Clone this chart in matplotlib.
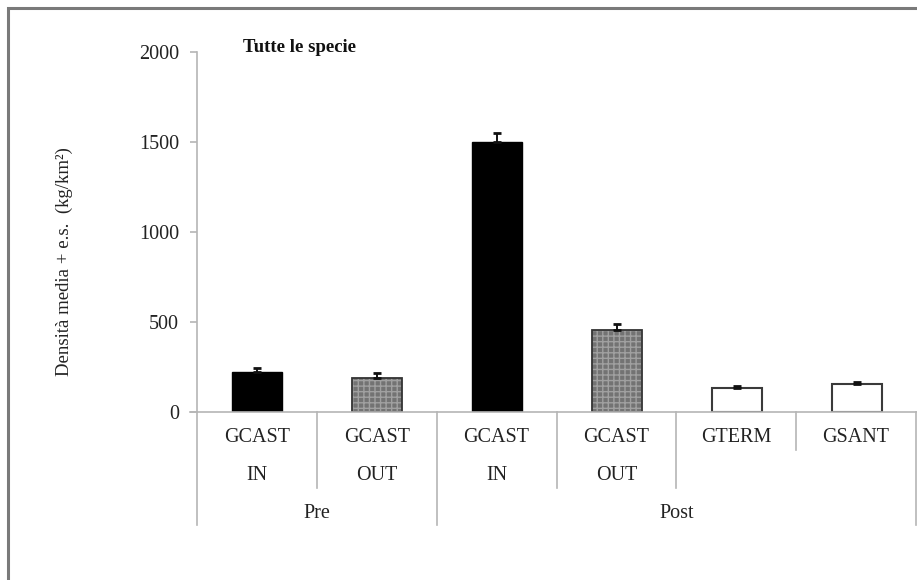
import matplotlib
matplotlib.use("Agg")
import matplotlib.pyplot as plt
from matplotlib.patches import Rectangle
from matplotlib.lines import Line2D
import numpy as np

# ---- data ----
groups = ["Pre", "Post"]
group_sizes = [2, 4]
sites = ["GCAST\nIN", "GCAST\nOUT", "GCAST\nIN", "GCAST\nOUT", "GTERM", "GSANT"]
means = [222, 189, 1500, 454, 135, 156]
errors = [21, 28, 52, 35, 11, 12]
styles = ["in", "out", "in", "out", "other", "other"]
yticks = [0, 500, 1000, 1500, 2000]
title = "Tutte le specie"
ylabel = "Densità media + e.s.  (kg/km²)"

W, H = 917, 580
plt.rcParams['font.family'] = ['Liberation Serif', 'DejaVu Serif']
fig = plt.figure(figsize=(W / 100, H / 100), dpi=100)

def fx(px):
    return px / W

def fy(py):
    return 1 - py / H

ax_left, ax_right, ax_top, ax_bot = 197, 917, 52, 412
ax = fig.add_axes([fx(ax_left), fy(ax_bot), fx(ax_right - ax_left), (ax_bot - ax_top) / H])
ax.set_xlim(0, 6.0)
ax.set_ylim(0, 2000)

x = np.arange(len(sites)) + 0.5
bw = 0.42
grey_axis = "#b5b5b5"
for xi, m, e, s in zip(x, means, errors, styles):
    if s == "in":
        ax.bar(xi, m, width=bw, color="black", edgecolor="black", linewidth=1, zorder=3)
    elif s == "out":
        ax.bar(xi, m, width=bw, color="#737373", edgecolor="#a0a0a0", hatch="+++",
               linewidth=0, zorder=3)
        ax.bar(xi, m, width=bw, fill=False, edgecolor="#333333", linewidth=1.3, zorder=4)
    else:
        ax.bar(xi, m, width=bw, color="white", edgecolor="#3a3a3a", linewidth=1.5, zorder=3)
    ax.errorbar(xi, m, yerr=[[0], [e]], fmt="none", ecolor="#111111", elinewidth=1.4,
                capsize=3.2, capthick=2, zorder=5)

for sp in ["top", "right", "bottom"]:
    ax.spines[sp].set_visible(False)
ax.spines["left"].set_color(grey_axis)
ax.spines["left"].set_linewidth(1.2)
ax.set_yticks(yticks)
ax.set_yticklabels([str(t) for t in yticks], fontsize=14.5, color="#222222")
ax.tick_params(axis="y", length=5, width=1.2, color=grey_axis, pad=8)
ax.set_xticks([])

# horizontal baseline extending left of the axis by tick length
fig.add_artist(Line2D([fx(190), fx(917)], [fy(412), fy(412)], color=grey_axis, lw=1.2))

# category separators
sep_px = [ax_left + i * (916 - ax_left) / 6 for i in range(7)]
sep_bottom = [525, 488, 525, 488, 488, 450, 525]
for px, pb in zip(sep_px, sep_bottom):
    fig.add_artist(Line2D([fx(px), fx(px)], [fy(412), fy(pb)], color=grey_axis, lw=1.2))

# site labels
for i, lab in enumerate(sites):
    cx = (sep_px[i] + sep_px[i + 1]) / 2
    parts = lab.split("\n")
    fig.text(fx(cx), fy(438), parts[0], ha="center", va="center", fontsize=14.5, color="#222222")
    if len(parts) > 1:
        fig.text(fx(cx), fy(476), parts[1], ha="center", va="center", fontsize=14.5, color="#222222")

# group labels
start = 0
for g, n in zip(groups, group_sizes):
    cx = (sep_px[start] + sep_px[start + n]) / 2
    fig.text(fx(cx), fy(514), g, ha="center", va="center", fontsize=14.5, color="#222222")
    start += n

fig.text(fx(243), fy(47), title, ha="left", va="center", fontsize=13.5, fontweight="bold",
         color="#111111")
fig.text(fx(64), fy(262), ylabel, ha="center", va="center", rotation=90, fontsize=13.5,
         color="#222222")

# outer frame (top and left edges visible)
fig.add_artist(Rectangle((fx(8), fy(620)), fx(960), (620 - 8) / H, fill=False,
                         edgecolor="#7a7a7a", linewidth=2.2, transform=fig.transFigure))

fig.savefig("out.png", dpi=100)
